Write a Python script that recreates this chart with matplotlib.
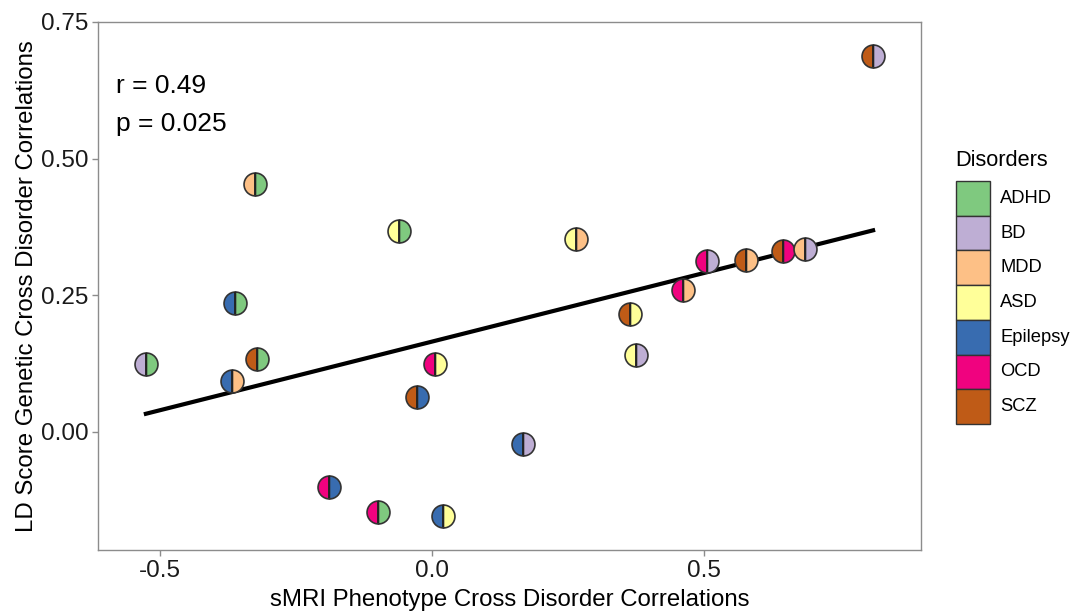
import numpy as np
import matplotlib
matplotlib.use("Agg")
import matplotlib.pyplot as plt
from matplotlib.patches import Rectangle

plt.rcParams['font.family'] = ['Liberation Sans', 'DejaVu Sans']

disorders = ['ADHD', 'BD', 'MDD', 'ASD', 'Epilepsy', 'OCD', 'SCZ']
colors = ['#7FC97F', '#BEAED4', '#FDC086', '#FFFF99', '#386CB0', '#F0027F', '#BF5B17']

# one point per disorder pair: (left half, right half)
left_d = ['MDD', 'Epilepsy', 'BD', 'SCZ', 'Epilepsy',
          'ASD', 'OCD', 'SCZ',
          'OCD', 'OCD', 'Epilepsy',
          'ASD', 'SCZ', 'ASD', 'Epilepsy',
          'OCD', 'OCD', 'SCZ', 'SCZ', 'MDD',
          'SCZ']
right_d = ['ADHD', 'ADHD', 'ADHD', 'ADHD', 'MDD',
           'ADHD', 'ASD', 'Epilepsy',
           'Epilepsy', 'ADHD', 'ASD',
           'MDD', 'ASD', 'BD', 'BD',
           'MDD', 'BD', 'MDD', 'OCD', 'BD',
           'BD']
smri = [-0.325, -0.362, -0.526, -0.322, -0.367,
        -0.060, 0.005, -0.028,
        -0.190, -0.100, 0.021,
        0.265, 0.364, 0.376, 0.167,
        0.462, 0.505, 0.578, 0.646, 0.686,
        0.811]
ldsc = [0.454, 0.236, 0.123, 0.133, 0.093,
        0.367, 0.123, 0.063,
        -0.102, -0.148, -0.155,
        0.353, 0.216, 0.141, -0.023,
        0.260, 0.312, 0.315, 0.330, 0.335,
        0.687]

cmap = dict(zip(disorders, colors))
x = np.array(smri)
y = np.array(ldsc)

fig = plt.figure(figsize=(10.70, 6.11), dpi=100)
ax = fig.add_axes([0.0916, 0.0998, 0.7691, 0.8642])

# regression line
b, a = np.polyfit(x, y, 1)
xs = np.array([x.min(), x.max()])
ax.plot(xs, a + b * xs, color='black', lw=3, zorder=2)

for xi, yi, l, r in zip(x, y, left_d, right_d):
    ax.plot(xi, yi, marker='o', ms=16.5, fillstyle='left',
            markerfacecolor=cmap[l], markerfacecoloralt=cmap[r],
            markeredgecolor='#333333', markeredgewidth=1.2, zorder=3)
    ax.plot(xi, yi, marker='|', ms=15.5, color='#222222', mew=1.3, zorder=4)

ax.set_xlim(-0.614, 0.899)
ax.set_ylim(-0.217, 0.75)
ax.set_xticks([-0.5, 0.0, 0.5])
ax.set_xticklabels(['-0.5', '0.0', '0.5'])
ax.set_yticks([0.0, 0.25, 0.5, 0.75])
ax.set_yticklabels(['0.00', '0.25', '0.50', '0.75'])
for s in ax.spines.values():
    s.set_color('#8c8c8c')
    s.set_linewidth(1.0)
ax.tick_params(length=4, width=1, color='#8c8c8c', labelsize=17.5, labelcolor='#1a1a1a', pad=3)
ax.set_xlabel('sMRI Phenotype Cross Disorder Correlations', fontsize=17.3, labelpad=5)
ax.set_ylabel('LD Score Genetic Cross Disorder Correlations', fontsize=17.3, labelpad=2)

ax.text(0.022, 0.878, 'r = 0.49', transform=ax.transAxes, fontsize=19, va='center')
ax.text(0.022, 0.806, 'p = 0.025', transform=ax.transAxes, fontsize=19, va='center')

# legend
fig.text(955 / 1070, 1 - 160 / 611, 'Disorders', fontsize=15.7, va='center', ha='left')
lx, lw_, lh = 956, 34, 34.7
for i, (d, c) in enumerate(zip(disorders, colors)):
    top = 181 + i * lh
    fig.patches.append(Rectangle((lx / 1070, 1 - (top + lh) / 611), lw_ / 1070, lh / 611,
                                 transform=fig.transFigure, facecolor=c,
                                 edgecolor='#333333', lw=1))
    fig.text((lx + lw_ + 10) / 1070, 1 - (top + lh / 2) / 611, d,
             fontsize=13.2, va='center', ha='left')

fig.savefig('out.png', dpi=100)
